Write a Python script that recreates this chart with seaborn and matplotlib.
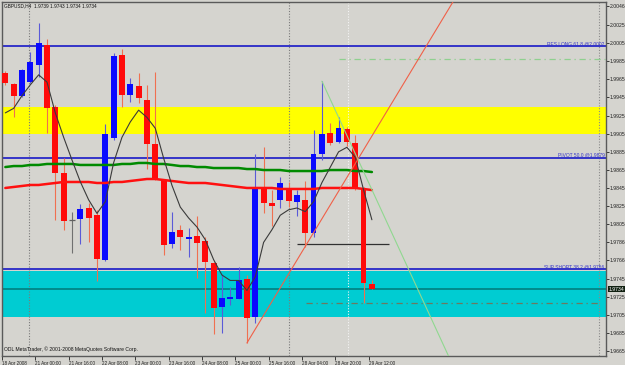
import numpy as np
import pandas as pd
import matplotlib
matplotlib.use("Agg")
import matplotlib.pyplot as plt
import matplotlib.transforms as mtransforms
import seaborn as sns

# ---------------- data ----------------
bar_idx = list(range(45))
opens = [1.9972, 1.9960, 1.9947, 1.9962, 1.9981, 2.0003, 1.9934, 1.9862, 1.9810, 1.9811,
         1.9823, 1.9815, 1.9766, 1.9900, 1.9992, 1.9948, 1.9958, 1.9942, 1.9894, 1.9854,
         1.9783, 1.9799, 1.9789, 1.9792, 1.9787, 1.9762, 1.9714, 1.9722, 1.9722, 1.9745,
         1.9703, 1.9845, 1.9828, 1.9832, 1.9844, 1.9830, 1.9832, 1.9795, 1.9883, 1.9906,
         1.9896, 1.9910, 1.9895, 1.9845, 1.9739]
closes = [1.9961, 1.9947, 1.9975, 1.9984, 2.0005, 1.9933, 1.9862, 1.9809, 1.9810, 1.9822,
          1.9812, 1.9767, 1.9905, 1.9991, 1.9948, 1.9960, 1.9944, 1.9894, 1.9855, 1.9782,
          1.9796, 1.9791, 1.9791, 1.9784, 1.9763, 1.9713, 1.9724, 1.9725, 1.9743, 1.9702,
          1.9845, 1.9828, 1.9825, 1.9851, 1.9831, 1.9837, 1.9795, 1.9883, 1.9905, 1.9895,
          1.9911, 1.9896, 1.9845, 1.9740, 1.9734]
highs = [1.9974, 1.9961, 1.9976, 1.9995, 2.0027, 2.0010, 1.9937, 1.9878, 1.9819, 1.9827,
         1.9828, 1.9821, 1.9916, 1.9994, 1.9999, 1.9967, 1.9972, 1.9959, 1.9973, 1.9854,
         1.9819, 1.9804, 1.9801, 1.9814, 1.9791, 1.9763, 1.9750, 1.9736, 1.9758, 1.9749,
         1.9883, 1.9890, 1.9843, 1.9857, 1.9852, 1.9843, 1.9853, 1.9909, 1.9963, 1.9917,
         1.9923, 1.9912, 1.9904, 1.9846, 1.9743]
lows = [1.9959, 1.9923, 1.9946, 1.9961, 1.9968, 1.9906, 1.9810, 1.9799, 1.9773, 1.9783,
        1.9785, 1.9742, 1.9764, 1.9898, 1.9934, 1.9940, 1.9939, 1.9866, 1.9854, 1.9771,
        1.9779, 1.9777, 1.9769, 1.9746, 1.9707, 1.9684, 1.9685, 1.9716, 1.9722, 1.9674,
        1.9696, 1.9817, 1.9803, 1.9823, 1.9824, 1.9814, 1.9780, 1.9791, 1.9876, 1.9893,
        1.9895, 1.9891, 1.9843, 1.9718, 1.9734]
ma_fast = [1.9928, 1.9933, 1.9947, 1.9959, 1.9970, 1.9962, 1.9928, 1.9901, 1.9876, 1.9852,
           1.9832, 1.9817, 1.9830, 1.9873, 1.9901, 1.9918, 1.9931, 1.9923, 1.9911, 1.9878,
           1.9848, 1.9824, 1.9812, 1.9802, 1.9788, 1.9766, 1.9749, 1.9743, 1.9743, 1.9732,
           1.9747, 1.9785, 1.9799, 1.9815, 1.9821, 1.9823, 1.9819, 1.9830, 1.9851, 1.9868,
           1.9885, 1.9890, 1.9879, 1.9843, 1.9810]
ma_green = [1.98682, 1.98693, 1.98693, 1.98705, 1.98705, 1.98716, 1.98716, 1.98716, 1.98716, 1.98705,
            1.98705, 1.98705, 1.98705, 1.98705, 1.98716, 1.98716, 1.98727, 1.98727, 1.98716, 1.98716,
            1.98705, 1.98693, 1.98693, 1.98682, 1.98682, 1.98671, 1.98671, 1.98671, 1.98671, 1.98660,
            1.98660, 1.98649, 1.98649, 1.98649, 1.98638, 1.98638, 1.98638, 1.98638, 1.98638, 1.98649,
            1.98649, 1.98649, 1.98638, 1.98638, 1.98627]
ma_red = [1.98451, 1.98462, 1.98473, 1.98484, 1.98484, 1.98495, 1.98506, 1.98517, 1.98517, 1.98517,
          1.98517, 1.98506, 1.98506, 1.98517, 1.98517, 1.98528, 1.98539, 1.98550, 1.98550, 1.98539,
          1.98528, 1.98517, 1.98506, 1.98506, 1.98506, 1.98495, 1.98484, 1.98473, 1.98462, 1.98451,
          1.98451, 1.98451, 1.98451, 1.98440, 1.98440, 1.98440, 1.98440, 1.98440, 1.98451, 1.98451,
          1.98451, 1.98451, 1.98451, 1.98440, 1.98428]

price_ticks = [2.0046, 2.0025, 2.0005, 1.9985, 1.9965, 1.9945, 1.9925, 1.9905, 1.9885, 1.9865,
               1.9845, 1.9825, 1.9805, 1.9786, 1.9766, 1.9745, 1.9725, 1.9705, 1.9685, 1.9665]
time_tick_idx = [0, 4, 8, 12, 16, 20, 24, 28, 32, 36, 40, 44]
time_labels = ["18 Apr 2008", "21 Apr 00:00", "21 Apr 16:00", "22 Apr 08:00", "23 Apr 00:00",
               "23 Apr 16:00", "24 Apr 08:00", "25 Apr 00:00", "25 Apr 16:00", "28 Apr 04:00",
               "28 Apr 20:00", "29 Apr 12:00"]

res_long = 2.0002
pivot = 1.98785
sup_short = 1.97556
res_label = "RES LONG 61.8 @2.0002"
pivot_label = "PIVOT 50.0 @1.9879"
sup_label = "SUP SHORT 38.2 @1.9756"
yellow_zone = (1.99047, 1.99345)
cyan_zone = (1.97026, 1.97534)
bid_line = 1.97335
bid_text = "1.9734"
target_short = 1.97181
target_long = 1.99875
mid_level = 1.97832
up_trend = ([29, 60], [1.9674, 2.0146])
down_trend = ([38, 58], [1.9963, 1.95637])
separators = [2.9, 34.0]
vline_white = 41.1
vline_right = 71.3
title_text = "GBPUSD,H4  1.9739 1.9743 1.9734 1.9734"
footer_text = "ODL MetaTrader, \u00a9 2001-2008 MetaQuotes Software Corp."

# ---------------- style ----------------
BG = "#d5d4cf"
sns.set_style("white", {"axes.facecolor": BG, "figure.facecolor": BG})
FONT = ["Liberation Sans", "DejaVu Sans"]
plt.rcParams["font.family"] = FONT

fig = plt.figure(figsize=(6.25, 3.65), dpi=100)
fig.patch.set_facecolor(BG)
ax = fig.add_axes([2 / 625, 9 / 365, 604 / 625, 354 / 365])
ax.set_facecolor(BG)

# zones
ax.axhspan(*yellow_zone, color="#ffff00", zorder=1, lw=0)
ax.axhspan(*cyan_zone, color="#00ccd2", zorder=1, lw=0)

# separators
for s in separators:
    ax.axvline(s, color="#7a7a7a", lw=0.8, ls=(0, (1, 1.5)), zorder=1.5)
ax.axvline(vline_right, color="#8a8a8a", lw=0.8, ls=(0, (1, 1.5)), zorder=1.5)
ax.axvline(vline_white, color="#f4f4f4", lw=0.8, ls=(0, (1, 1.5)), zorder=1.5)

# horizontal levels
for lvl in (res_long, pivot, sup_short):
    ax.axhline(lvl, color="#3434c8", lw=1.4, zorder=2)
ax.axhline(bid_line, color="#008080", lw=1.2, zorder=2)
ax.hlines(target_short, 36.1, 71.4, color="#6a7a60", lw=0.9, ls=(0, (5, 3, 1, 3)), zorder=2)
ax.hlines(target_long, 40.1, 72.0, color="#8fd08f", lw=0.9, ls=(0, (5, 3, 1, 3)), zorder=2)
ax.hlines(mid_level, 35.0, 46.1, color="#303030", lw=0.9, zorder=2)

# candles
o = np.array(opens); c = np.array(closes); h = np.array(highs); l = np.array(lows)
x = np.array(bar_idx)
body_col, wick_col = [], []
for oo, cc in zip(o, c):
    if cc > oo:
        body_col.append("#0a0aff"); wick_col.append("#5a5ad8")
    elif cc < oo:
        body_col.append("#ff0a0a"); wick_col.append("#f07050")
    else:
        body_col.append("#606060"); wick_col.append("#707070")
ax.vlines(x, l, h, colors=wick_col, lw=0.8, zorder=3)
ax.bar(x, np.abs(c - o), bottom=np.minimum(o, c), width=0.7, color=body_col, lw=0, zorder=4)
doji = x[o == c]
ax.hlines(o[o == c], doji - 0.35, doji + 0.35, colors="#606060", lw=0.9, zorder=4)

# moving averages via seaborn
df = pd.DataFrame({"bar": bar_idx, "fast": ma_fast, "green": ma_green, "red": ma_red})
sns.lineplot(data=df, x="bar", y="green", ax=ax, color="#008a00", lw=1.8, zorder=5)
sns.lineplot(data=df, x="bar", y="red", ax=ax, color="#ff1010", lw=1.8, zorder=5)
sns.lineplot(data=df, x="bar", y="fast", ax=ax, color="#3a3a3a", lw=0.8, zorder=6)

# trend lines
ax.plot(*up_trend, color="#f06048", lw=0.8, zorder=6)
ax.plot(*down_trend, color="#90d890", lw=0.8, zorder=6)

# level labels
trans = mtransforms.blended_transform_factory(ax.transAxes, ax.transData)
for lvl, txt in ((res_long, res_label), (pivot, pivot_label), (sup_short, sup_label)):
    ax.text(0.9975, lvl, txt, transform=trans, ha="right", va="bottom", fontsize=3.5,
            color="#3434c8", zorder=7)

# axes
ax.set_xlim(-0.12, 72.1)
ax.set_ylim(1.96596, 2.00504)
ax.set_xlabel(""); ax.set_ylabel("")
ax.yaxis.tick_right()
ax.set_yticks(price_ticks)
ax.set_yticklabels([f"{p:.4f}" for p in price_ticks])
ax.set_xticks([t - 0.4 for t in time_tick_idx])
ax.set_xticklabels(time_labels, ha="left")
ax.tick_params(axis="y", right=True, left=False, length=2.0, width=0.6, pad=0.8,
               labelsize=3.7, colors="#202020")
ax.tick_params(axis="x", bottom=True, length=3, width=0.6, pad=0.3,
               labelsize=3.3, colors="#202020")
for sp in ax.spines.values():
    sp.set_visible(True)
    sp.set_color("#5a5a5a")
    sp.set_linewidth(1.0)

# current price box
ax.text(1.004, bid_line, bid_text, transform=trans, ha="left", va="center", fontsize=3.7,
        color="white", zorder=8, clip_on=False,
        bbox=dict(boxstyle="square,pad=0.12", fc="#102010", ec="none"))

# header / footer text
ax.text(0.004, 0.996, title_text, transform=ax.transAxes, ha="left", va="top",
        fontsize=3.4, color="#101010", zorder=8)
ax.text(0.003, 0.012, footer_text, transform=ax.transAxes, ha="left", va="bottom",
        fontsize=3.6, color="#101010", zorder=8)

fig.savefig("out.png", dpi=100, facecolor=BG)
